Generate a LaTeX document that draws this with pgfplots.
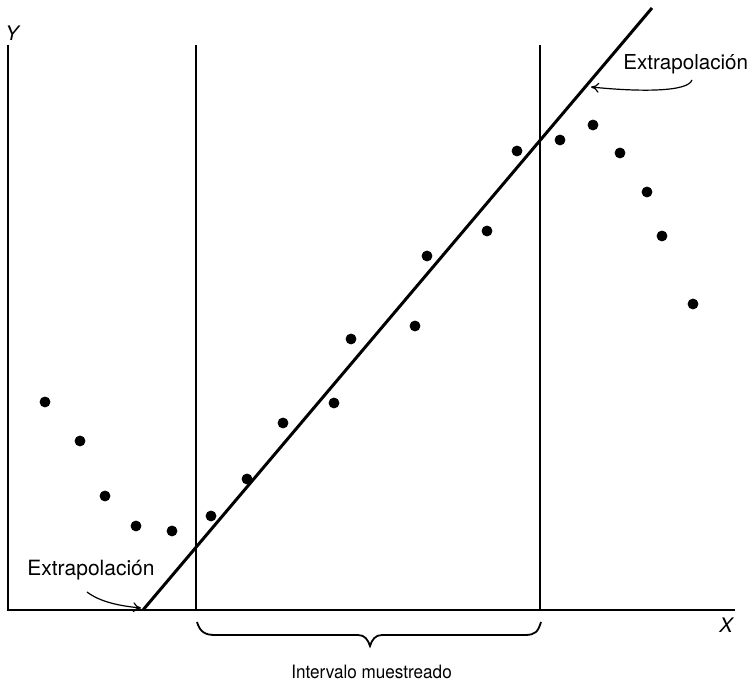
\documentclass[border=0pt]{standalone}
\usepackage{pgfplots}
\pgfplotsset{compat=1.18}
\usetikzlibrary{arrows.meta}
\usepackage{fontspec}
\setmainfont{TeX Gyre Heros}
\begin{document}
\begin{tikzpicture}
\begin{axis}[
  name=ax,
  scale only axis, width=376pt, height=342pt,
  xmin=0, xmax=752, ymin=-74, ymax=610,
  axis lines=none, clip=false,
]
% axes
\addplot[black, line width=0.8pt] coordinates {(8,565) (8,0) (735,0)};
% sampled interval borders
\addplot[black, line width=0.7pt] coordinates {(196,565) (196,0)};
\addplot[black, line width=0.7pt] coordinates {(540,565) (540,0)};
% fitted line
\addplot[black, line width=1.5pt] coordinates {(143,0) (652,602)};
% data points
\addplot[only marks, mark=*, mark size=2.5pt, black] coordinates {
(45,208) (80,169) (105,114) (136,84) (172,79) (211,94) (247,131) (283,187)
(334,207) (351,271) (415,284) (427,354) (487,379) (517,459) (560,470)
(593,485) (620,457) (647,418) (662,374) (693,306)
};
% labels
\node[font=\itshape\fontsize{10}{12}\selectfont] at (axis cs:12,577) {Y};
\node[font=\itshape\fontsize{10}{12}\selectfont] at (axis cs:726,-15) {X};
\node[anchor=west, inner sep=0pt, font=\fontsize{10.3}{12}\selectfont] at (axis cs:623,546) {Extrapolación};
\node[anchor=west, inner sep=0pt, font=\fontsize{10.5}{12}\selectfont] at (axis cs:27,40) {Extrapolación};
\node[anchor=west, inner sep=0pt, xscale=0.93, font=\fontsize{9.2}{10}\selectfont] at (axis cs:291,-62) {Intervalo muestreado};
% arrows
\draw[-{To[length=4pt,width=5pt]}, line width=0.6pt] (axis cs:87,18) .. controls (axis cs:100,8) and (axis cs:120,4) .. (axis cs:141,2);
\draw[-{To[length=4pt,width=5pt]}, line width=0.6pt] (axis cs:692,530) .. controls (axis cs:688,518) and (axis cs:640,518) .. (axis cs:591,523);
% brace
\draw[line width=0.9pt] (axis cs:197,-12) .. controls (axis cs:200,-22) and (axis cs:205,-25) .. (axis cs:215,-25)
  -- (axis cs:358,-25) .. controls (axis cs:365,-25) and (axis cs:368,-30) .. (axis cs:370,-36)
  .. controls (axis cs:372,-30) and (axis cs:375,-25) .. (axis cs:382,-25)
  -- (axis cs:525,-25) .. controls (axis cs:535,-25) and (axis cs:538,-22) .. (axis cs:541,-12);
\end{axis}
\pgfresetboundingbox
\useasboundingbox (ax.south west) rectangle (ax.north east);
\end{tikzpicture}
\end{document}
